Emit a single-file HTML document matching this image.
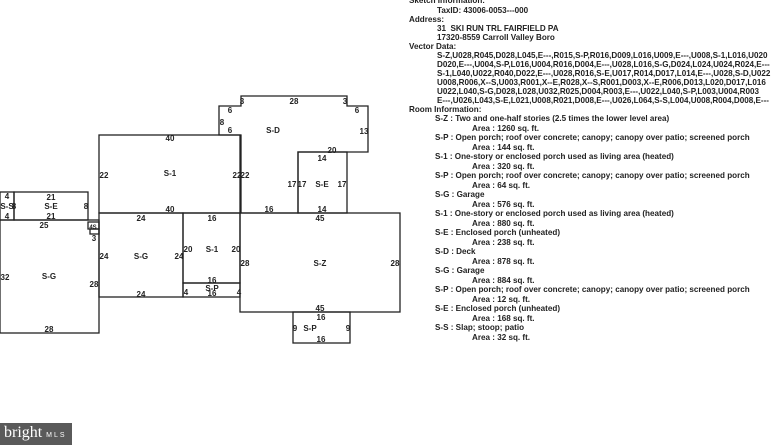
<!DOCTYPE html>
<html><head><meta charset="utf-8"><style>
html,body{margin:0;padding:0;background:#fff;width:771px;height:445px;overflow:hidden;position:relative;font-family:"Liberation Sans",Arial,sans-serif;}
.t{position:absolute;font-size:8.1px;font-weight:bold;color:#222;white-space:nowrap;line-height:9px;}
.logo{position:absolute;left:0;top:423px;width:72px;height:22px;background:#5a5a5a;color:#fff;font-family:"Liberation Serif",serif;font-size:16px;line-height:20px;padding-left:4px;box-sizing:border-box;}
.logo span{font-family:"Liberation Sans",sans-serif;font-size:7px;letter-spacing:2px;}
</style></head><body>
<svg width="771" height="445" style="position:absolute;left:0;top:0" font-family="Liberation Sans, Arial, sans-serif" font-size="8" font-weight="bold" fill="#222">
<g fill="none" stroke="#222" stroke-width="1.3">
<rect x="240" y="213" width="160" height="99"/>
<rect x="293" y="312" width="57" height="31"/>
<rect x="183" y="213" width="57" height="70"/>
<rect x="183" y="283" width="57" height="14"/>
<rect x="99" y="213" width="84" height="84"/>
<rect x="99" y="135" width="141" height="78"/>
<polygon points="219,106 241,106 241,96 347,96 347,106 368,106 368,152 298,152 298,213 241,213 241,135 219,135"/>
<rect x="298" y="152" width="49" height="61"/>
<rect x="0" y="220" width="99" height="113"/>
<rect x="14" y="192" width="74" height="28"/>
<rect x="0" y="192" width="14" height="28"/>
<rect x="88" y="222" width="11" height="7"/>
<rect x="90" y="229" width="9" height="5"/>
</g>
<g text-anchor="middle">
<text x="320" y="266">S-Z</text><text x="320" y="221">45</text><text x="320" y="311">45</text>
<text x="245" y="266">28</text><text x="395" y="266">28</text>
<text x="321" y="320">16</text><text x="321" y="342">16</text><text x="310" y="331">S-P</text>
<text x="295" y="331">9</text><text x="348" y="331">9</text>
<text x="212" y="221">16</text><text x="212" y="252">S-1</text><text x="188" y="252">20</text><text x="236" y="252">20</text>
<text x="212" y="283">16</text><text x="212" y="291">S-P</text><text x="212" y="296">16</text>
<text x="186" y="295">4</text><text x="239" y="295">4</text>
<text x="141" y="221">24</text><text x="141" y="259">S-G</text><text x="104" y="259">24</text><text x="179" y="259">24</text><text x="141" y="297">24</text>
<text x="170" y="141">40</text><text x="170" y="176">S-1</text><text x="170" y="212">40</text>
<text x="104" y="178">22</text><text x="237" y="178">22</text><text x="245" y="178">22</text>
<text x="273" y="133">S-D</text><text x="294" y="104">28</text><text x="242" y="104">3</text><text x="345" y="104">3</text>
<text x="230" y="113">6</text><text x="357" y="113">6</text><text x="222" y="125">8</text><text x="230" y="133">6</text><text x="364" y="134">13</text>
<text x="332" y="153">20</text><text x="322" y="161">14</text><text x="322" y="187">S-E</text>
<text x="292" y="187">17</text><text x="302" y="187">17</text><text x="342" y="187">17</text>
<text x="269" y="212">16</text><text x="322" y="212">14</text>
<text x="49" y="279">S-G</text><text x="5" y="280">32</text><text x="94" y="287">28</text><text x="49" y="332">28</text><text x="44" y="228">25</text>
<text x="51" y="200">21</text><text x="51" y="209">S-E</text><text x="51" y="219">21</text><text x="86" y="209">8</text>
<text x="7" y="199">4</text><text x="7" y="209">S-S</text><text x="14" y="209">8</text><text x="7" y="219">4</text>
<text x="93" y="229" font-size="6">4S</text><text x="94" y="241">3</text>
</g>
</svg>
<div class="t" style="left:409px;top:-4px">Sketch Information:</div>
<div class="t" style="left:437px;top:6px">TaxID: 43006-0053---000</div>
<div class="t" style="left:409px;top:15px">Address:</div>
<div class="t" style="left:437px;top:24px">31&nbsp; SKI RUN TRL FAIRFIELD PA</div>
<div class="t" style="left:437px;top:33px">17320-8559 Carroll Valley Boro</div>
<div class="t" style="left:409px;top:42px">Vector Data:</div>
<div class="t" style="left:437px;top:51px">S-Z,U028,R045,D028,L045,E---,R015,S-P,R016,D009,L016,U009,E---,U008,S-1,L016,U020</div>
<div class="t" style="left:437px;top:60px">D020,E---,U004,S-P,L016,U004,R016,D004,E---,U028,L016,S-G,D024,L024,U024,R024,E---</div>
<div class="t" style="left:437px;top:69px">S-1,L040,U022,R040,D022,E---,U028,R016,S-E,U017,R014,D017,L014,E---,U028,S-D,U022</div>
<div class="t" style="left:437px;top:78px">U008,R006,X--S,U003,R001,X--E,R028,X--S,R001,D003,X--E,R006,D013,L020,D017,L016</div>
<div class="t" style="left:437px;top:87px">U022,L040,S-G,D028,L028,U032,R025,D004,R003,E---,U022,L040,S-P,L003,U004,R003</div>
<div class="t" style="left:437px;top:96px">E---,U026,L043,S-E,L021,U008,R021,D008,E---,U026,L064,S-S,L004,U008,R004,D008,E---</div>
<div class="t" style="left:409px;top:105px">Room Information:</div>
<div class="t" style="left:435px;top:114px">S-Z : Two and one-half stories (2.5 times the lower level area)</div>
<div class="t" style="left:472px;top:123.5px">Area : 1260 sq. ft.</div>
<div class="t" style="left:435px;top:133px">S-P : Open porch; roof over concrete; canopy; canopy over patio; screened porch</div>
<div class="t" style="left:472px;top:142.5px">Area : 144 sq. ft.</div>
<div class="t" style="left:435px;top:152px">S-1 : One-story or enclosed porch used as living area (heated)</div>
<div class="t" style="left:472px;top:161.5px">Area : 320 sq. ft.</div>
<div class="t" style="left:435px;top:171px">S-P : Open porch; roof over concrete; canopy; canopy over patio; screened porch</div>
<div class="t" style="left:472px;top:180.5px">Area : 64 sq. ft.</div>
<div class="t" style="left:435px;top:190px">S-G : Garage</div>
<div class="t" style="left:472px;top:199.5px">Area : 576 sq. ft.</div>
<div class="t" style="left:435px;top:209px">S-1 : One-story or enclosed porch used as living area (heated)</div>
<div class="t" style="left:472px;top:218.5px">Area : 880 sq. ft.</div>
<div class="t" style="left:435px;top:228px">S-E : Enclosed porch (unheated)</div>
<div class="t" style="left:472px;top:237.5px">Area : 238 sq. ft.</div>
<div class="t" style="left:435px;top:247px">S-D : Deck</div>
<div class="t" style="left:472px;top:256.5px">Area : 878 sq. ft.</div>
<div class="t" style="left:435px;top:266px">S-G : Garage</div>
<div class="t" style="left:472px;top:275.5px">Area : 884 sq. ft.</div>
<div class="t" style="left:435px;top:285px">S-P : Open porch; roof over concrete; canopy; canopy over patio; screened porch</div>
<div class="t" style="left:472px;top:294.5px">Area : 12 sq. ft.</div>
<div class="t" style="left:435px;top:304px">S-E : Enclosed porch (unheated)</div>
<div class="t" style="left:472px;top:313.5px">Area : 168 sq. ft.</div>
<div class="t" style="left:435px;top:323px">S-S : Slap; stoop; patio</div>
<div class="t" style="left:472px;top:332.5px">Area : 32 sq. ft.</div>
<div class="logo">bright<span> MLS</span></div>
</body></html>
